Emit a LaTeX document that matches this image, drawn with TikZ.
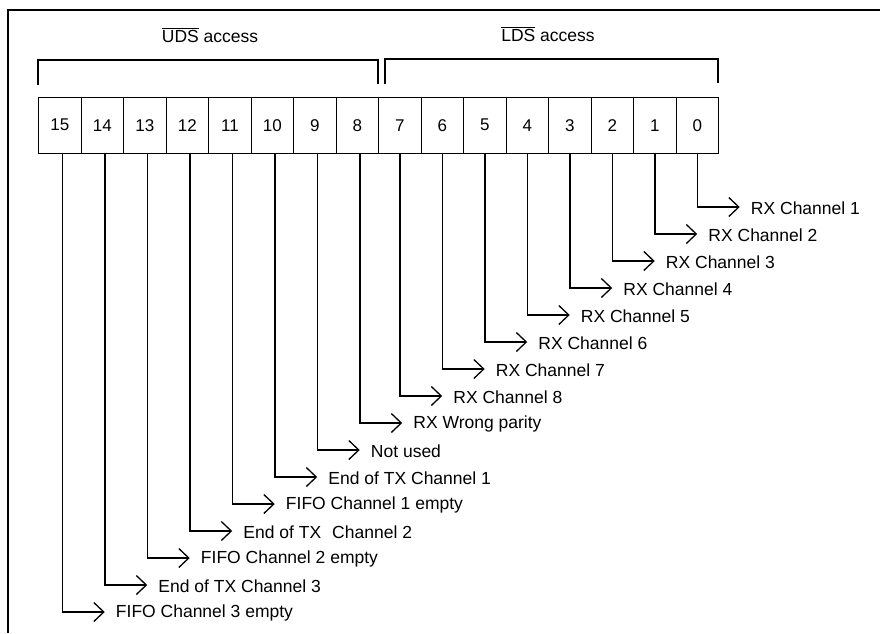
\documentclass[tikz,border=0pt]{standalone}
\usepackage{fontspec}
\setmainfont{Liberation Sans}
\usetikzlibrary{arrows.meta}
\begin{document}
\begin{tikzpicture}[x=1pt,y=-1pt,
  cell/.style={draw, line width=1.4pt, minimum width=42.5pt, minimum height=56pt, inner sep=0pt, anchor=north west, font=\fontsize{17}{20}\selectfont},
  lbl/.style={anchor=west, inner sep=0pt, font=\fontsize{17.5}{20}\selectfont},
  hdr/.style={inner sep=0pt, font=\fontsize{17.5}{20}\selectfont},
  conn/.style={line width=1.3pt, -{Straight Barb[length=10pt,width=19pt,line width=1.3pt]}},
  frame/.style={line width=1.3pt},
  brk/.style={line width=1.4pt}]
\useasboundingbox (0,0) rectangle (880,633);
% outer frame (top and left edges visible)
\draw[frame] (8,633) -- (8,10) -- (880,10);
% headers
\node[hdr] (uds) at (210,35) {$\overline{\hbox{UDS}}$ access};
\node[hdr] (lds) at (548,34) {$\overline{\hbox{LDS}}$ access};
% brackets
\draw[brk] (38,85) -- (38,60) -- (378,60) -- (378,84);
\draw[brk] (385,84) -- (385,59) -- (718,59) -- (718,83);
% register cells
\foreach \b in {0,...,15}{
  \node[cell] (b\b) at ({38+42.5*(15-\b)},96.5) {\b};
}
% labels and connectors
\foreach \b/\t in {0/RX Channel 1, 1/RX Channel 2, 2/RX Channel 3, 3/RX Channel 4,
  4/RX Channel 5, 5/RX Channel 6, 6/RX Channel 7, 7/RX Channel 8,
  8/RX Wrong parity, 9/Not used, 10/End of TX Channel 1, 11/FIFO Channel 1 empty,
  12/End of TX\hspace{0.35em} Channel 2, 13/FIFO Channel 2 empty,
  14/End of TX Channel 3, 15/FIFO Channel 3 empty}{
  \pgfmathsetmacro{\off}{\b>7 ? 2.5 : 0}
  \pgfmathsetmacro{\yy}{207+27*\b}
  \pgfmathsetmacro{\xx}{38+42.5*(15-\b)+21.25+\off+43}
  \coordinate (t\b) at (\xx,\yy);
  \node[lbl] (l\b) at ([xshift=11pt,yshift=-1pt]t\b) {\t};
  \draw[conn] ([xshift=\off pt]b\b.south) |- (t\b);
}
\end{tikzpicture}
\end{document}
